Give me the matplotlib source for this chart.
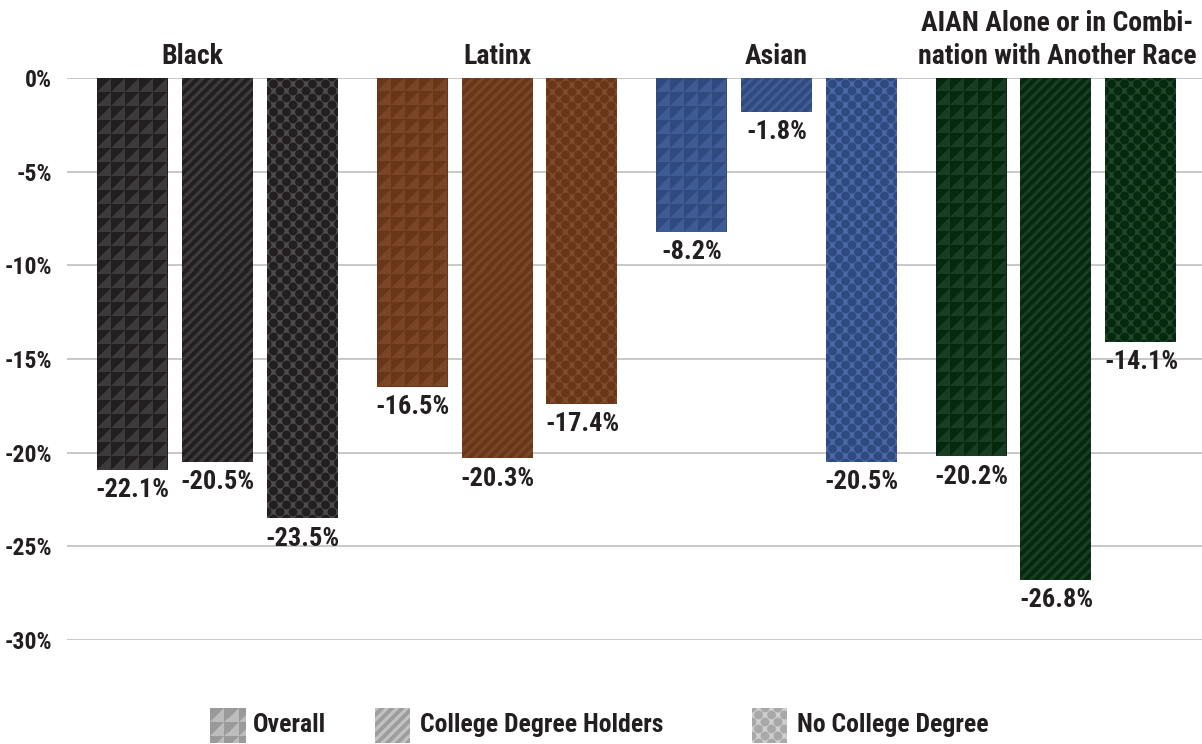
import numpy as np
import matplotlib
matplotlib.use("Agg")
import matplotlib.pyplot as plt
from matplotlib import font_manager

# data
groups = ["Black", "Latinx", "Asian", "AIAN Alone or in Combi-\nnation with Another Race"]
series = ["Overall", "College Degree Holders", "No College Degree"]
# bar heights as drawn in the picture
overall = [-20.9, -16.5, -8.2, -20.2]
college = [-20.5, -20.3, -1.8, -26.8]
no_college = [-23.5, -17.4, -20.5, -14.1]
# printed labels
overall_lbl = ["-22.1%", "-16.5%", "-8.2%", "-20.2%"]
college_lbl = ["-20.5%", "-20.3%", "-1.8%", "-26.8%"]
no_college_lbl = ["-23.5%", "-17.4%", "-20.5%", "-14.1%"]
yticks = [0, -5, -10, -15, -20, -25, -30]

# (dark, light, dot background) per group
palette = [
    ("#231f20", "#3c3a3b", "#4d4b4c"),
    ("#693617", "#7a4526", "#804c2d"),
    ("#2f4a7e", "#3e5b93", "#4b69a6"),
    ("#05290f", "#193d22", "#21462a"),
]
kinds = ["tri", "stripe", "dot"]
TXT = "#231f20"


# pick a condensed bold face if one is installed, otherwise Roboto
def pick_font():
    for fam in ["Liberation Sans Narrow", "Roboto Condensed", "Open Sans Condensed", "DejaVu Sans Condensed"]:
        try:
            font_manager.findfont(font_manager.FontProperties(family=fam, weight="bold"),
                                  fallback_to_default=False)
            return fam, "normal", True
        except Exception:
            pass
    for fam in ["DejaVu Sans", "Roboto", "Open Sans", "Noto Sans"]:
        try:
            p = font_manager.findfont(font_manager.FontProperties(family=fam, weight="bold",
                                                                  stretch="condensed"),
                                      fallback_to_default=False)
            if "ondensed" in p or "arrow" in p:
                return fam, "condensed", True
        except Exception:
            pass
    return "Roboto", "normal", False


FAM, STRETCH, NARROW = pick_font()
plt.rcParams["font.family"] = [FAM, "DejaVu Sans"]
plt.rcParams["font.stretch"] = STRETCH
plt.rcParams["font.weight"] = "bold"
k = 1.0 if NARROW else 0.88
FS_TICK, FS_VAL, FS_TITLE, FS_LEG = 17 * k, 19 * k, 20 * k, 18.5 * k


def hex_rgb(c):
    return np.array(matplotlib.colors.to_rgb(c))


def texture(kind, w, h, cols):
    dark, light, dotbg = (hex_rgb(c) for c in cols)
    yy, xx = np.mgrid[0:h, 0:w] + 0.5
    if kind == "tri":
        cell = 14.0
        u = (xx % cell) / cell
        v = (yy % cell) / cell
        a = np.clip((u + v - 1.0) * cell + 0.5, 0, 1)
        base, top = dark, light
    elif kind == "stripe":
        p = 10.0
        s = (xx + yy) % p
        a = np.clip(np.minimum(s, 4.5 - s) + 0.5, 0, 1) * (s < 5.5)
        base, top = dark, light
    else:
        px, py = 13.0, 14.0
        dx1 = (xx % px) - px / 2
        dy1 = (yy % py) - py / 2
        dx2 = ((xx + px / 2) % px) - px / 2
        dy2 = ((yy + py / 2) % py) - py / 2
        d = np.minimum(np.hypot(dx1, dy1), np.hypot(dx2, dy2))
        a = np.clip(4.4 - d + 0.5, 0, 1)
        base, top = dotbg, dark
    return base[None, None, :] * (1 - a[..., None]) + top[None, None, :] * a[..., None]


fig = plt.figure(figsize=(12.02, 7.44), dpi=100)
ax = fig.add_axes([67 / 1202, 1 - 640 / 744, 1 - 67 / 1202, (640 - 78) / 744])

x = np.arange(len(groups))
offs = [-0.304, 0.0, 0.304]
width = 0.254
xlim = (-0.5385, 3.5224)
ylim = (-30, 0)
ax.set_xlim(xlim)
ax.set_ylim(ylim)

values = [overall, college, no_college]
labels = [overall_lbl, college_lbl, no_college_lbl]

all_bars = []
for i, vals in enumerate(values):
    bars = ax.bar(x + offs[i], vals, width, color=[p[0] for p in palette], zorder=2, linewidth=0)
    all_bars.append(bars)

# textures clipped to bars
for i, bars in enumerate(all_bars):
    for g, bar in enumerate(bars):
        x0, x1 = bar.get_x(), bar.get_x() + bar.get_width()
        y0, y1 = bar.get_y() + bar.get_height(), bar.get_y()
        (px0, py0), (px1, py1) = ax.transData.transform([(x0, y0), (x1, y1)])
        w = max(int(round(abs(px1 - px0))), 1)
        h = max(int(round(abs(py1 - py0))), 1)
        img = texture(kinds[i], w, h, palette[g])
        im = ax.imshow(img, extent=(x0, x1, y0, y1), origin="upper", aspect="auto",
                       interpolation="nearest", zorder=3)
        im.set_clip_path(bar)

# value labels
for i, vals in enumerate(values):
    for g, v in enumerate(vals):
        ax.annotate(labels[i][g], (x[g] + offs[i], v), xytext=(0, -6), textcoords="offset points",
                    ha="center", va="top", fontsize=FS_VAL, fontweight="bold", color=TXT,
                    annotation_clip=False)

# group titles
title_dx = [-18, 0, 0, 1]
for g, name in enumerate(groups):
    ax.annotate(name, (x[g], 0), xytext=(title_dx[g], 10), textcoords="offset points",
                ha="center", va="baseline", fontsize=FS_TITLE, fontweight="bold", color=TXT,
                linespacing=1.3, annotation_clip=False)

ax.set_xlim(xlim)
ax.set_ylim(ylim)
ax.set_yticks(yticks)
ax.set_yticklabels([f"{t}%" for t in yticks])
ax.tick_params(axis="y", length=0, pad=11, labelsize=FS_TICK, labelcolor=TXT)
for lab in ax.get_yticklabels():
    lab.set_fontweight("bold")
ax.set_xticks([])
ax.yaxis.grid(True, color="#bfbfbf", linewidth=1.2)
ax.set_axisbelow(True)
for s in ax.spines.values():
    s.set_visible(False)

# legend
W, H = 1202, 744
sw_x = [210, 375, 752]
tx_x = [253, 420, 797]
leg_cols = [("#9a9a9a", "#bdbdbd", "#c9c9c9"),
            ("#9e9e9e", "#c2c2c2", "#c9c9c9"),
            ("#a8a8a8", "#bdbdbd", "#cfcfcf")]
for i, name in enumerate(series):
    sax = fig.add_axes([sw_x[i] / W, 1 - 743 / H, 35 / W, 35 / H])
    sax.imshow(texture(kinds[i], 35, 35, leg_cols[i]), interpolation="nearest", aspect="auto")
    sax.axis("off")
    fig.text(tx_x[i] / W, 1 - 725 / H, name, ha="left", va="center", fontsize=FS_LEG,
             fontweight="bold", color=TXT)

fig.savefig("out.png", dpi=100)
